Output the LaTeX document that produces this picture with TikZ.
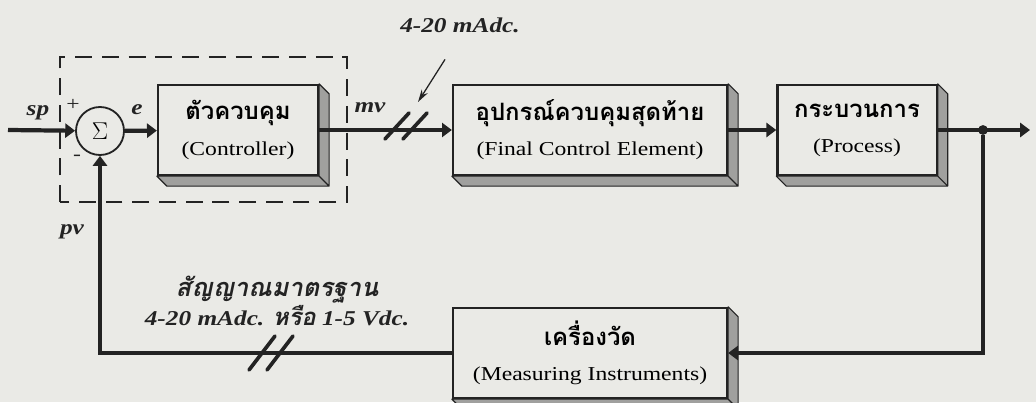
\documentclass[tikz,border=0pt]{standalone}
\usepackage{fontspec}
\setmainfont{Liberation Serif}[FakeStretch=1.2]
\newfontfamily\thai[Script=Thai]{Loma}
\usepackage{tikz}
\usetikzlibrary{arrows.meta, positioning}

\definecolor{paper}{RGB}{234,234,230}
\definecolor{ink}{RGB}{35,35,35}
\definecolor{sidegray}{RGB}{160,160,158}

\newcommand{\thead}[1]{{\fontsize{17}{24}\selectfont\thai\bfseries #1}}

\begin{document}
\begin{tikzpicture}[
    x=0.025cm, y=0.025cm,
    >={Triangle[length=7pt, width=10pt]},
    blk/.style={draw=ink, line width=1.6pt, fill=paper, minimum height=2.25cm,
                align=center, font=\fontsize{14}{25}\selectfont},
    face/.style={fill=sidegray, draw=ink, line width=0.8pt, line join=round},
    sig/.style={draw=ink, line width=3pt},
    tick/.style={draw=ink, line width=2.6pt, line cap=round},
    pointer/.style={draw=ink, line width=0.9pt, -{Stealth[length=9pt, width=5pt]}},
    lbl/.style={font=\fontsize{15}{20}\selectfont\bfseries\itshape, text=ink},
    sgn/.style={font=\fontsize{14}{14}\selectfont, text=ink},
    dot/.style={circle, fill=ink, inner sep=0pt, minimum size=7pt},
]

% background and frame
\fill[paper] (0,0) rectangle (1036,402);
\useasboundingbox (0,0) rectangle (1036,402);

% controller group (dashed)
\draw[ink, line width=1pt, dash pattern=on 12pt off 7pt] (60,200) rectangle (347,345);

% blocks
\node[blk, minimum width=4cm] (ctrl) at (238,272)
    {\thead{ตัวควบคุม}\\(Controller)};
\node[blk, minimum width=6.85cm] (fce) at (590,272)
    {\thead{อุปกรณ์ควบคุมสุดท้าย}\\(Final Control Element)};
\node[blk, minimum width=3.98cm] (proc) at (857,272)
    {\thead{กระบวนการ}\\(Process)};
\node[blk, minimum width=6.85cm] (meas) at (590,49)
    {\thead{เครื่องวัด}\\(Measuring Instruments)};

% 3D side faces of the blocks
\foreach \b in {ctrl,fce,proc,meas}
    \filldraw[face] (\b.north east) -- ++(10,-10)
        -- ([shift={(10,-10)}]\b.south east)
        -- ([shift={(10,-10)}]\b.south west) -- (\b.south west)
        -- (\b.south east) -- cycle
        (\b.south east) -- ([shift={(10,-10)}]\b.south east);

% summing junction
\node[draw=ink, circle, line width=1.3pt, minimum size=1.2cm, inner sep=0pt,
      font=\fontsize{17}{17}\selectfont] (sum) at (100,271) {$\Sigma$};

% signals
\coordinate (spin) at (8,272);
\coordinate (out) at (1030,272);
\node[dot] (tap) at (983,272) {};

\draw[sig, ->] (spin) -- (sum);
\draw[sig, ->] (sum) -- (ctrl);
\draw[sig, ->] (ctrl) -- (fce);
\draw[sig, ->] (fce) -- (proc);
\draw[sig, ->] (proc) -- (out);
\draw[sig, ->] (tap) |- (meas);
\draw[sig, ->] (meas) -| (sum);

% signal labels
\node[lbl] (splbl) at (38,289) {sp};
\node[sgn] (plus) at (73,297) {+};
\node[sgn] (minus) at (77,244) {-};
\node[lbl] (elbl) at (137,292) {e};
\node[lbl] (mvlbl) at (370,294) {mv};
\node[lbl] (pvlbl) at (72,170) {pv};

% 4-20 mA line marks
\coordinate (brk1) at (406,276);
\coordinate (brk2) at (271,49);
\foreach \dx in {-9,9} {
    \draw[tick] ([shift={(\dx-12,-13)}]brk1) -- ++(24,26);
    \draw[tick] ([shift={(\dx-13,-17)}]brk2) -- ++(26,34);
}

% notes
\node[lbl] (mAtop) at (460,377) {4-20 mAdc.};
\coordinate (ptr) at (418,300);
\draw[pointer] ([shift={(-15,-22)}]mAtop.south) -- (ptr);

\node[lbl, align=center] (stdlbl) at (277,101)
    {{\fontsize{18}{22}\selectfont\thai สัญญาณมาตรฐาน}\\4-20 mAdc.
     {\fontsize{17}{22}\selectfont\thai หรือ} 1-5 Vdc.};

\end{tikzpicture}
\end{document}
